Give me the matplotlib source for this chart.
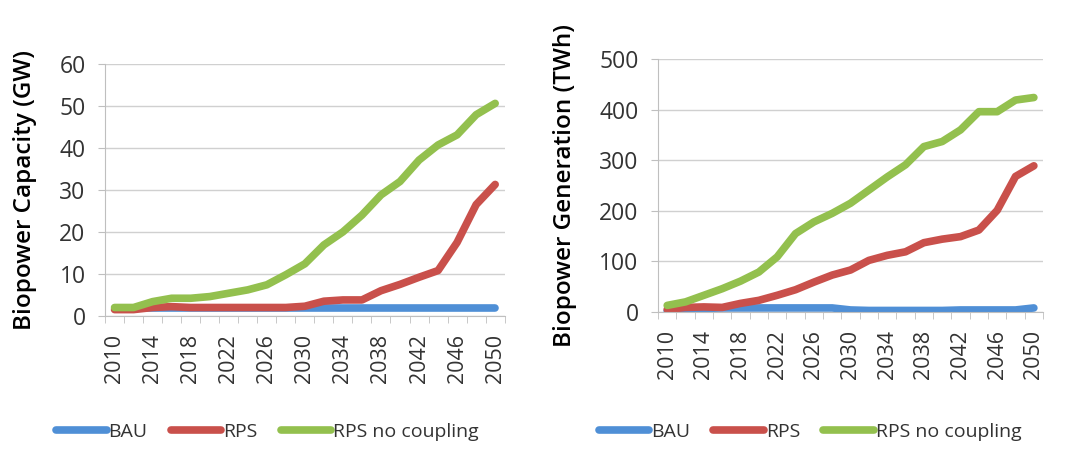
import matplotlib
matplotlib.use("Agg")
import matplotlib.pyplot as plt
from matplotlib.lines import Line2D

plt.rcParams['font.family'] = ['Open Sans', 'DejaVu Sans']

years = list(range(2010, 2051, 2))
year_labels = [str(y) if (y - 2010) % 4 == 0 else "" for y in years]

cap_bau = [2.0, 2.0, 2.0, 2.0, 2.0, 2.0, 2.0, 2.0, 2.0, 2.0, 2.0, 2.0, 2.0, 2.0,
           2.0, 2.0, 2.0, 2.0, 2.0, 2.0, 2.0]
cap_rps = [1.5, 1.5, 2.0, 2.2, 2.0, 2.0, 2.0, 2.0, 2.0, 2.0, 2.3, 3.5, 3.8, 3.8,
           6.0, 7.5, 9.2, 10.8, 17.5, 26.5, 31.3]
cap_nocoup = [2.0, 2.0, 3.4, 4.2, 4.2, 4.6, 5.4, 6.2, 7.4, 9.8, 12.4, 16.9, 20.0,
              24.0, 28.8, 32.0, 37.1, 40.7, 43.1, 47.9, 50.6]

gen_bau = [2, 5, 7, 8, 8, 8, 8, 8, 8, 8, 4, 3, 3, 3, 3, 3, 4, 4, 4, 4, 8]
gen_rps = [5, 9, 10, 9, 17, 23, 33, 44, 59, 73, 83, 102, 112, 119, 137, 144,
           149, 162, 201, 268, 289]
gen_nocoup = [13, 20, 33, 46, 61, 79, 109, 155, 178, 195, 215, 241, 267, 291,
              327, 337, 360, 396, 396, 419, 424]

series_names = ["BAU", "RPS", "RPS no coupling"]
colors = ["#4F8FD6", "#C9504B", "#93C04E"]

fig = plt.figure(figsize=(10.83, 4.5), dpi=100)
ax1 = fig.add_axes([0.097, 0.298, 0.369, 0.56])
ax2 = fig.add_axes([0.6076, 0.3067, 0.3555, 0.562])

def style(ax, data, ylim, yticks, ylabel):
    x = list(range(len(years)))
    for vals, c in zip(data, colors):
        ax.plot(x, vals, color=c, lw=5.5, solid_capstyle='round',
                solid_joinstyle='round')
    ax.set_xlim(-0.5, len(years) - 0.5)
    ax.set_ylim(*ylim)
    ax.set_yticks(yticks)
    ax.grid(axis='y', color='#D0D0D0', lw=1)
    ax.set_axisbelow(True)
    for s in ['top', 'right']:
        ax.spines[s].set_visible(False)
    for s in ['left', 'bottom']:
        ax.spines[s].set_color('#BFBFBF')
    ax.set_xticks(x)
    ax.set_xticklabels(year_labels, rotation=90, fontsize=15.5, color='#333333')
    ax.tick_params(axis='x', which='major', length=0, pad=13)
    ax.set_xticks([i - 0.5 for i in range(len(years) + 1)], minor=True)
    ax.tick_params(axis='x', which='minor', length=5, color='#BFBFBF')
    ax.tick_params(axis='y', length=5, color='#BFBFBF', labelsize=16.5,
                   labelcolor='#333333', pad=9)
    ax.set_ylabel(ylabel, fontsize=17.5, fontweight='semibold', color='black',
                  labelpad=16)

style(ax1, [cap_bau, cap_rps, cap_nocoup], (0, 60), range(0, 61, 10),
      "Biopower Capacity (GW)")
style(ax2, [gen_bau, gen_rps, gen_nocoup], (0, 500), range(0, 501, 100),
      "Biopower Generation (TWh)")

handles = [Line2D([0], [0], color=c, lw=5.5, solid_capstyle='round')
           for c in colors]
for cx in (0.247, 0.748):
    fig.legend(handles, series_names, loc='center', bbox_to_anchor=(cx, 0.04),
               ncol=3, frameon=False, fontsize=14, handlelength=2.6,
               handletextpad=0.1, columnspacing=1.2, labelcolor='#333333')

fig.savefig("out.png", dpi=100)
